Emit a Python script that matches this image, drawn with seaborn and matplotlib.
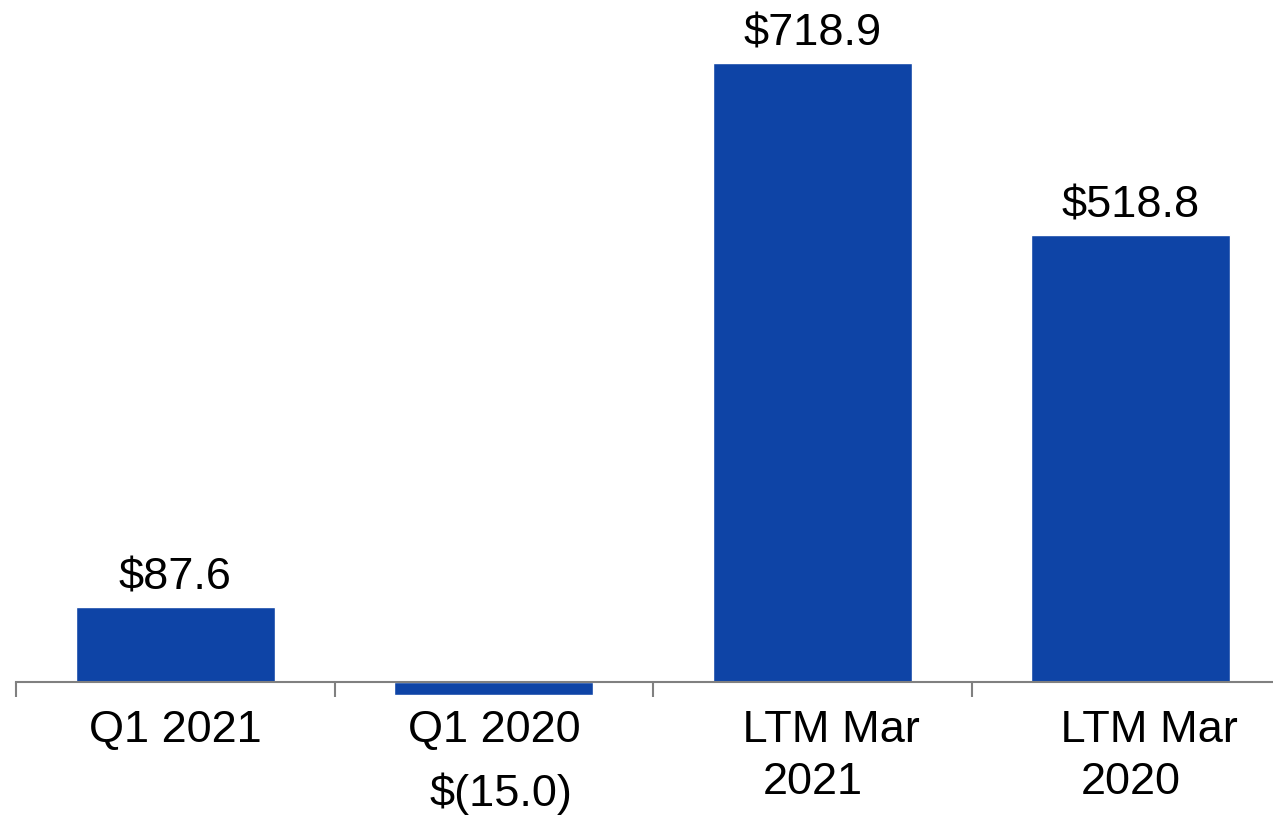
import matplotlib
matplotlib.use("Agg")
import matplotlib.pyplot as plt
import seaborn as sns
import pandas as pd

categories = ["Q1 2021", "Q1 2020", "LTM Mar 2021", "LTM Mar 2020"]
tick_labels = ["Q1 2021", "Q1 2020", "   LTM Mar\n2021", "   LTM Mar\n2020"]
values = [87.6, -15.0, 718.9, 518.8]
value_labels = ["$87.6", "$(15.0)", "$718.9", "$518.8"]

BAR = "#0E44A6"
GRAY = "#808080"

sns.set_theme(style="white")
plt.rcParams["font.family"] = ["Liberation Sans", "DejaVu Sans"]

fig = plt.figure(figsize=(12.73, 8.15), dpi=100)
ax = fig.add_axes([16 / 1273, 115 / 815, 1 - 16 / 1273, 700 / 815])

df = pd.DataFrame({"cat": categories, "val": values})
sns.barplot(data=df, x="cat", y="val", color=BAR, saturation=1, width=0.625, ax=ax)

ax.set_xlim(-0.5, 3.446)
ax.set_ylim(-20.9, 792.1)

for s in ["top", "right", "left"]:
    ax.spines[s].set_visible(False)
ax.spines["bottom"].set_position(("data", 0))
ax.spines["bottom"].set_color(GRAY)
ax.spines["bottom"].set_linewidth(1.5)
ax.set_yticks([])
ax.set_xlabel("")
ax.set_ylabel("")

FS = 32.5
ax.set_xticks(range(len(categories)))
ax.set_xticklabels(tick_labels, fontsize=FS, color="black", multialignment="center",
                   linespacing=1.36)
ax.set_xticks([i - 0.5 for i in range(len(categories))], minor=True)
ax.tick_params(axis="x", which="major", length=0, pad=20)
ax.tick_params(axis="x", which="minor", length=11, width=1.5, color=GRAY, bottom=True)

for i, (v, lab) in enumerate(zip(values, value_labels)):
    if v >= 0:
        ax.annotate(lab, xy=(i, v), xytext=(0, 12.5), textcoords="offset points",
                    ha="center", va="baseline", fontsize=FS, color="black",
                    annotation_clip=False)
    else:
        ax.annotate(lab, xy=(i, v), xytext=(5, -80), textcoords="offset points",
                    ha="center", va="baseline", fontsize=FS, color="black",
                    annotation_clip=False)

fig.savefig("out.png", dpi=100)
